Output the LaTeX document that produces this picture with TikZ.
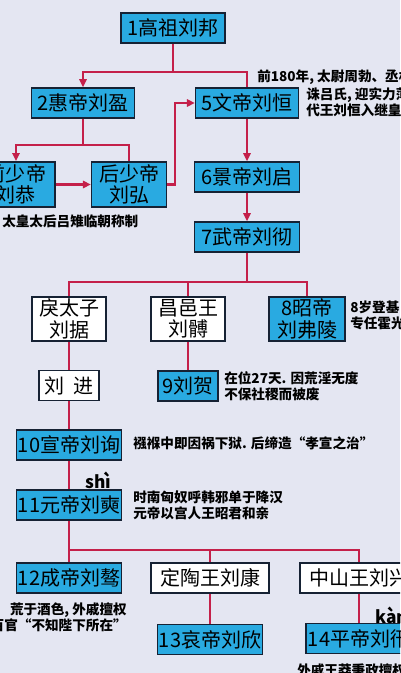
\documentclass[tikz,border=0pt]{standalone}
\usepackage{fontspec}
\setmainfont{Noto Sans CJK SC}
\usetikzlibrary{arrows.meta}
\definecolor{bgpaper}{RGB}{228,230,242}
\definecolor{boxblue}{RGB}{41,170,225}
\definecolor{boxline}{RGB}{22,34,52}
\definecolor{linkred}{RGB}{196,32,74}

\begin{document}
\begin{tikzpicture}[x=0.75pt,y=-0.75pt,
  emperor/.style={draw=boxline,line width=1.2pt,fill=boxblue,inner sep=1pt,
    minimum height=22.5pt,font=\fontsize{15}{16}\selectfont,align=center},
  prince/.style={emperor,fill=white},
  link/.style={draw=linkred,line width=1.6pt},
  arr/.style={link,-{Triangle[length=6pt,width=5.5pt]}},
  note/.style={anchor=west,inner sep=0pt,align=left,
    font=\fontsize{10.2}{12}\selectfont\bfseries}]
\useasboundingbox (0,0) rectangle (400,673);
\fill[bgpaper] (0,0) rectangle (400,673);
\clip (0,0) rectangle (400,673);

\node[emperor,minimum width=78pt] (gaozu) at (173,28) {1高祖刘邦};
\node[emperor,minimum width=77pt] (huidi) at (83,103) {2惠帝刘盈};
\node[emperor,minimum width=77pt] (wendi) at (247,103) {5文帝刘恒};
\node[emperor,minimum width=58.5pt,minimum height=34pt] (qianshao) at (16,184.5) {前少帝\\刘恭};
\node[emperor,minimum width=56pt,minimum height=34pt] (houshao) at (129,184.5) {后少帝\\刘弘};
\node[emperor,minimum width=79pt] (jingdi) at (247,177) {6景帝刘启};
\node[emperor,minimum width=79pt] (wudi) at (247,237) {7武帝刘彻};
\node[prince,minimum width=55.5pt,minimum height=33pt] (lizi) at (69,319) {戾太子\\刘据};
\node[prince,minimum width=55.5pt,minimum height=33pt] (changyi) at (188,319) {昌邑王\\刘髆};
\node[emperor,minimum width=57pt,minimum height=33pt] (zhaodi) at (307,319) {8昭帝\\刘弗陵};
\node[prince,minimum width=45pt] (liujin) at (69,385.5) {刘\hspace{0.45em}进};
\node[emperor,minimum width=45pt] (liuhe) at (188,386) {9刘贺};
\node[emperor,minimum width=78pt] (xuandi) at (69,445) {10宣帝刘询};
\node[emperor,minimum width=78pt] (yuandi) at (69,505) {11元帝刘奭};
\node[emperor,minimum width=78pt] (chengdi) at (69,578) {12成帝刘骜};
\node[prince,minimum width=88.5pt] (dingtao) at (210,578) {定陶王刘康};
\node[prince,minimum width=88.5pt] (zhongshan) at (359,578) {中山王刘兴};
\node[emperor,minimum width=76.5pt] (aidi) at (210,639.5) {13哀帝刘欣};
\node[emperor,minimum width=79.5pt] (pingdi) at (359,638.5) {14平帝刘衎};

\node[note] (wennote) at (257,77) {前180年, 太尉周勃、丞相};
\node[note] (wennotetwo) at (306,95) {诛吕氏, 迎实力薄弱};
\node[note] (wennotethree) at (306,110) {代王刘恒入继皇位};
\node[note] (lvnote) at (2,221) {太皇太后吕雉临朝称制};
\node[note] (zhaonote) at (350,315) {8岁登基\\专任霍光};
\node[note] (henote) at (224,386.5) {在位27天. 因荒淫无度\\不保社稷而被废};
\node[note] (xuannote) at (133,443) {襁褓中即因祸下狱. 后缔造“孝宣之治”};
\node[note] (yuannote) at (133,505) {时南匈奴呼韩邪单于降汉\\元帝以宫人王昭君和亲};
\node[note,anchor=east,align=right] (chengnote) at (127,617) {荒于酒色, 外戚擅权\\百官“不知陛下所在”};
\node[note] (pingnote) at (297,670) {外戚王莽秉政擅权};
\node[note,font=\fontsize{13}{14}\selectfont\bfseries] (shi) at (85,480) {shì};
\node[note,font=\fontsize{13}{14}\selectfont\bfseries] (kan) at (375,615) {kàn};

\coordinate (gaozufork) at (173,72);
\draw[link] (gaozu) -- (gaozufork);
\draw[arr] (gaozufork) -| (huidi);
\draw[link] (gaozufork) -| (wendi);

\coordinate (huidifork) at (83,145);
\draw[link] (huidi) -- (huidifork);
\draw[arr] (huidifork) -| (qianshao);
\draw[link] (huidifork) -| (houshao);
\draw[arr] (qianshao) -- (houshao);
\draw[arr] (houshao.east) -- ++(8,0) |- (wendi);

\draw[arr] (wendi) -- (jingdi);
\draw[arr] (jingdi) -- (wudi);

\coordinate (wudifork) at (247,282);
\draw[link] (wudi) -- (wudifork);
\draw[link] (wudifork) -| (lizi);
\draw[link] (wudifork) -| (changyi);
\draw[link] (wudifork) -| (zhaodi);
\draw[link] (lizi) -- (liujin);
\draw[link] (changyi) -- (liuhe);
\draw[link] (liujin) -- (xuandi);
\draw[link] (xuandi) -- (yuandi);

\coordinate (yuandifork) at (69,550);
\draw[link] (yuandi) -- (yuandifork);
\draw[link] (yuandifork) -- (chengdi);
\draw[link] (yuandifork) -| (dingtao);
\draw[link] (yuandifork) -| (zhongshan);
\draw[link] (dingtao) -- (aidi);
\draw[link] (zhongshan) -- (pingdi);
\end{tikzpicture}
\end{document}
